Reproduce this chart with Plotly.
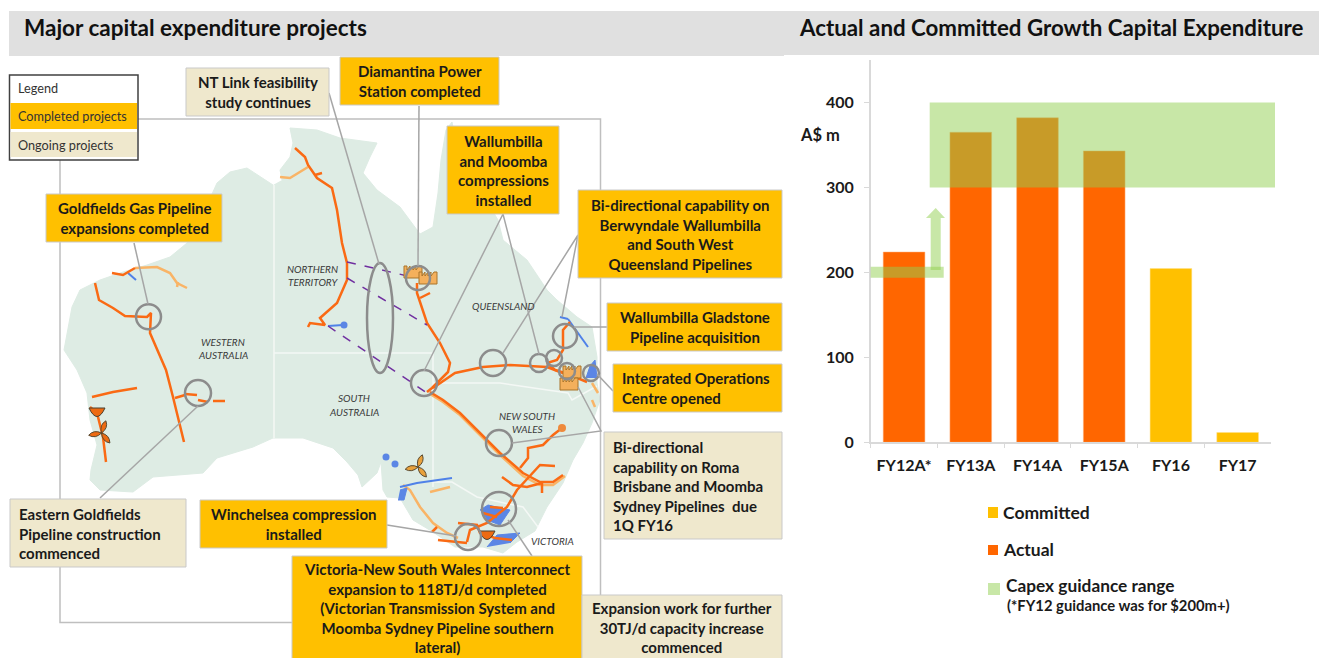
import math
import plotly.graph_objects as go

W, H = 1319, 658

## Bar chart data
categories = ['FY12A*', 'FY13A', 'FY14A', 'FY15A', 'FY16', 'FY17']
actual     = [224, 365, 382, 343, None, None]
committed  = [None, None, None, None, 204.5, 11.5]
guidance_low, guidance_high = 300, 400
fy12_guidance_low, fy12_guidance_high = 193.6, 206.6

## Map data in its own pixel coordinates
land = [(273,185),(247,168),(230,172),(217,183),(208,203),(197,227),(187,243),(170,257),(147,265),(123,272),
        (100,280),(80,290),(72,307),(68,327),(64,350),(77,370),(87,393),(90,420),(97,445),(91,470),(90,480),
        (100,490),(133,492),(153,477),(203,473),(217,458),(253,447),(273,438),(303,438),(333,448),(347,462),
        (358,475),(362,487),(377,473),(381,462),(383,490),(387,497),(400,498),(413,520),(433,532),(455,547),
        (483,547),(503,553),(517,542),(535,531),(547,507),(563,483),(573,460),(583,443),(592,423),(600,400),
        (597,383),(597,357),(592,327),(577,317),(557,300),(547,290),(527,260),(503,240),(498,220),(480,190),
        (460,165),(452,122),(446,130),(441,160),(438,193),(433,227),(420,234),(400,207),(377,190),(363,173),
        (370,157),(377,143),(340,138),(317,130),(290,128),(293,143),(290,157),(280,170),(282,180)]
state_borders = [[(274,185),(274,438)], [(274,353),(433,353),(433,487)], [(433,383),(500,383),(568,393),(572,400),(597,386)],
                 [(433,482),(452,482),(477,497),(523,507),(538,527)]]

orange_lines = [
    [(295,148),(305,157),(308,165),(317,178),(332,188),(337,210),(342,243),(347,263),(347,280),(337,303),(320,318),(325,325),(310,323),(308,327)],
    [(315,175),(322,173)],
    [(95,283),(99,300),(113,308),(125,316),(147,317),(151,313),(150,333),(157,350),(166,370),(173,397),(180,427),(184,442)],
    [(175,398),(185,395)],
    [(112,273),(123,275),(135,268)],
    [(92,397),(113,392),(137,388)],
    [(90,407),(97,413),(103,437),(106,462)],
    [(417,283),(417,293),(427,323),(440,343),(450,363),(448,372),(432,388),(427,392)],
    [(420,298),(430,293)],
    [(433,388),(455,373),(483,367),(510,365),(547,367),(560,372),(570,375),(587,382)],
    [(430,392),(443,400),(460,413),(480,433),(500,453),(523,473),(540,482),(553,482),(563,475)],
    [(562,428),(553,435),(543,445),(528,448),(528,458),(520,468)],
    [(555,466),(540,465),(528,478),(517,490),(507,507),(487,523),(470,530),(467,542)],
    [(502,477),(513,485),(527,487),(542,483),(542,493)],
    [(490,507),(503,508)],
    [(483,513),(497,517)],
    [(458,523),(477,525),(480,533),(495,538),(512,540)],
    [(438,540),(455,542),(467,543)],
    [(432,532),(437,527)],
    [(570,322),(563,330),(563,350),(557,360),(547,363),(555,370),(568,374)],
]
light_orange_lines = [
    [(280,177),(290,178),(308,167)],
    [(135,268),(157,267),(170,273),(177,283),(187,288)],
    [(177,287),(178,282)],
    [(430,394),(443,402),(460,415),(480,435),(500,455),(523,476),(540,485),(553,485),(565,476)],
    [(430,492),(450,487)],
    [(403,485),(410,490),(420,507),(433,523),(447,533),(458,538)],
    [(592,383),(598,393)],
    [(592,400),(595,407)],
]
dashed_orange_lines = [[(185,394),(197,395)], [(198,400),(208,402)], [(213,401),(225,401)]]
blue_lines = [
    [(128,273),(136,280)],
    [(328,326),(343,325)],
    [(560,317),(568,319)],
    [(568,319),(578,333),(588,347)],
    [(400,487),(417,483),(452,478)],
]
blue_dots = [(344,325),(386,457),(395,464),(562,428)]
blue_patches = [
    [(480,510),(488,505),(510,510),(500,525),(487,520)],
    [(487,547),(497,535),(520,533),(510,543)],
    [(400,490),(407,488),(404,500),(398,500)],
    [(586,378),(590,366),(595,360),(597,378)],
]
purple_lines = [[(347,262),(412,277)], [(347,278),(427,325)], [(328,326),(427,393)]]

rings = [(148.5,316.7,12.5),(198,393,13),(418,278,12),(424,383,13),(493,363,13),(539,363,9),(554,358,8),
         (567,371,8),(591,373,8),(565,336,12),(499,443,13),(499,509,17),(468,537,13)]
nt_link_ring = (380, 318, 13, 55)

leaders = [[(329,93),(379,264)], [(419,106),(418,266)], [(134,243),(148,304)], [(100,498),(198,406)],
           [(424,371),(503,214),(539,354)], [(503,353),(578,235),(562,317)], [(574,327),(607,327)],
           [(597,374),(613,391)], [(512,443),(601,431),(578,387)], [(508,520),(532,556)], [(387,525),(456,536)]]

completed_color = '#FFC000'
ongoing_color = '#EFE8CD'
boxes = [
    (186,68,329,116,ongoing_color,'NT Link feasibility<br>study continues','center'),
    (340,57,499,105,completed_color,'Diamantina Power<br>Station completed','center'),
    (447,126,559,214,completed_color,'Wallumbilla<br>and Moomba<br>compressions<br>installed','center'),
    (46,194,222,242,completed_color,'Goldfields Gas Pipeline<br>expansions completed','center'),
    (578,190,782,278,completed_color,'Bi-directional capability on<br>Berwyndale Wallumbilla<br>and South West<br>Queensland Pipelines','center'),
    (607,303,782,351,completed_color,'Wallumbilla Gladstone<br>Pipeline acquisition','center'),
    (613,364,782,412,completed_color,'Integrated Operations<br>Centre opened','left'),
    (604,432,782,539,ongoing_color,'Bi-directional<br>capability on Roma<br>Brisbane and Moomba<br>Sydney Pipelines  due<br>1Q FY16','left'),
    (10,499,186,567,ongoing_color,'Eastern Goldfields<br>Pipeline construction<br>commenced','left'),
    (200,500,387,548,completed_color,'Winchelsea compression<br>installed','center'),
    (292,556,582,660,completed_color,'Victoria-New South Wales Interconnect<br>expansion to 118TJ/d completed<br>(Victorian Transmission System and<br>Moomba Sydney Pipeline southern<br>lateral)','center'),
    (582,595,782,660,ongoing_color,'Expansion work for further<br>30TJ/d capacity increase<br>commenced','center'),
]
state_labels = [(223,342,'WESTERN'),(223,355,'AUSTRALIA'),(312,269,'NORTHERN'),(313,282,'TERRITORY'),(354,398,'SOUTH'),
                (354,412,'AUSTRALIA'),(503,306,'QUEENSLAND'),(527,416,'NEW SOUTH'),(527,429,'WALES'),(552,541,'VICTORIA')]
turbines = [(101.5,433,'#ED6A12'),(418,467,'#E9A13B')]
gas_plants = [(97,411),(487,534)]
factories = [(413,272),(428,278),(572,372),(569,384)]

FONT = 'Lato'
GREEN = 'rgba(146,208,80,0.5)'
GREY = '#A6A6A6'

def split(lines):
    xs, ys = [], []
    for line in lines:
        xs += [p[0] for p in line] + [None]
        ys += [p[1] for p in line] + [None]
    return xs, ys

def map_line(lines, color, width, dash='solid'):
    xs, ys = split(lines)
    fig.add_trace(go.Scatter(x=xs, y=ys, mode='lines', xaxis='x2', yaxis='y2', hoverinfo='skip', showlegend=False,
                             line=dict(color=color, width=width, dash=dash)))

def map_rect(x0, y0, x1, y1, fill, line=None, width=0):
    fig.add_shape(type='rect', xref='x2', yref='y2', x0=x0, y0=y0, x1=x1, y1=y1, fillcolor=fill,
                  line=dict(color=line, width=width) if line else dict(width=0))

def text(x, y, s, size=15, bold=True, xanchor='center', align='center', color='#1A1A1A', italic=False):
    if xanchor == 'left':
        x -= 2      # annotation padding
    fig.add_annotation(xref='x2', yref='y2', x=x, y=y, text=s, showarrow=False, xanchor=xanchor, yanchor='middle', align=align,
                       font=dict(family=FONT, size=size, color=color, weight=700 if bold else 400,
                                 style='italic' if italic else 'normal'))

def poly_path(points):
    return 'M ' + ' L '.join(f'{x} {y}' for x, y in points) + ' Z'

fig = go.Figure()

## Bars on the real chart axes
fig.add_trace(go.Bar(x=categories, y=actual, name='Actual', marker=dict(color='#FF6600', line=dict(color='#FFB27F', width=0.5)), showlegend=False))
fig.add_trace(go.Bar(x=categories, y=committed, name='Committed', marker=dict(color='#FFC000', line=dict(color='#FFE08A', width=0.5)), showlegend=False))

## Land and state borders
fig.add_trace(go.Scatter(x=[p[0] for p in land], y=[p[1] for p in land], mode='lines', fill='toself', fillcolor='#DEECE4',
                         line=dict(color='#DEECE4', width=1), xaxis='x2', yaxis='y2', hoverinfo='skip', showlegend=False))
map_line(state_borders, '#F4F8F5', 1.5)

## Pipelines
map_line(light_orange_lines, '#F9B466', 2.5)
map_line(blue_lines, '#4F81E8', 2)
for patch in blue_patches:
    fig.add_trace(go.Scatter(x=[p[0] for p in patch], y=[p[1] for p in patch], mode='lines', fill='toself', fillcolor='#5B86E5',
                             line=dict(color='#5B86E5', width=1), xaxis='x2', yaxis='y2', hoverinfo='skip', showlegend=False))
map_line(orange_lines, '#FA6A14', 2.5)
map_line(dashed_orange_lines, '#FA6A14', 2.5)
map_line(purple_lines, '#7030A0', 1.5, 'dash')
fig.add_trace(go.Scatter(x=[p[0] for p in blue_dots[:3]], y=[p[1] for p in blue_dots[:3]], mode='markers', xaxis='x2', yaxis='y2',
                         marker=dict(color='#5B86E5', size=7), hoverinfo='skip', showlegend=False))
fig.add_trace(go.Scatter(x=[blue_dots[3][0]], y=[blue_dots[3][1]], mode='markers', xaxis='x2', yaxis='y2',
                         marker=dict(color='#EE8A3C', size=8), hoverinfo='skip', showlegend=False))

## Icons
for x, y, color in turbines:
    d = ''
    for ang in (-70, 50, 170):
        a = math.radians(ang)
        tx, ty = x + 13*math.cos(a), y + 13*math.sin(a)
        nx, ny = -math.sin(a)*5, math.cos(a)*5
        mx, my = x + 7*math.cos(a), y + 7*math.sin(a)
        d += f'M {x} {y} Q {mx+nx:.1f} {my+ny:.1f} {tx:.1f} {ty:.1f} Q {mx-nx:.1f} {my-ny:.1f} {x} {y} Z '
    fig.add_shape(type='path', xref='x2', yref='y2', path=d, fillcolor=color, line=dict(color='#5A4A30', width=1))
for x, y in gas_plants:
    fig.add_shape(type='path', xref='x2', yref='y2', path=f'M {x-8} {y-3} L {x+8} {y-3} Q {x} {y+14} {x-8} {y-3} Z',
                  fillcolor='#ED6A12', line=dict(color='#4A4030', width=1))
for x, y in factories:
    pts = [(x-9,y+6),(x-9,y-6),(x-6,y-6),(x-6,y-2),(x-3,y-6),(x-3,y-2),(x,y-6),(x,y-2),(x+3,y-6),(x+3,y-2),(x+6,y-6),(x+9,y-6),(x+9,y+6)]
    fig.add_shape(type='path', xref='x2', yref='y2', path=poly_path(pts), fillcolor='#F4B05C', line=dict(color='#A9742A', width=1))

## Frame, rings and leader lines sit under the boxes
fig.add_shape(type='rect', xref='x2', yref='y2', x0=60, y0=119, x1=600.5, y1=622.5, line=dict(color='#BFBFBF', width=1.5))
for x, y, r in rings:
    fig.add_shape(type='circle', xref='x2', yref='y2', x0=x-r, y0=y-r, x1=x+r, y1=y+r, line=dict(color='#8C8C8C', width=2.5))
x, y, rx, ry = nt_link_ring
fig.add_shape(type='circle', xref='x2', yref='y2', x0=x-rx, y0=y-ry, x1=x+rx, y1=y+ry, line=dict(color='#8C8C8C', width=2.5))
for line in leaders:
    d = 'M ' + ' L '.join(f'{px} {py}' for px, py in line)
    fig.add_shape(type='path', xref='x2', yref='y2', path=d, line=dict(color=GREY, width=1.5))

## Header bands
map_rect(9, 11, 784, 56, '#E0E0E0')
map_rect(784, 11, 1319, 55, '#E0E0E0')
text(24, 27, 'Major capital expenditure projects', size=22.5, xanchor='left', color='#111111')
text(799, 27, 'Actual and Committed Growth Capital Expenditure', size=22.3, xanchor='left', color='#111111')

## Slide legend
map_rect(9.5, 75, 138, 160, '#FFFFFF', '#404040', 1.5)
map_rect(10.5, 103, 137, 129, completed_color)
map_rect(10.5, 132, 137, 157, ongoing_color)
text(18, 88, 'Legend', size=12.7, bold=False, xanchor='left', color='#333333')
text(18, 116, 'Completed projects', size=12.7, bold=False, xanchor='left', color='#333333')
text(18, 145, 'Ongoing projects', size=12.7, bold=False, xanchor='left', color='#333333')

## Callouts
for x0, y0, x1, y1, fill, label, align in boxes:
    map_rect(x0, y0, x1, y1, fill, '#C9C9C9', 1)
    if align == 'center':
        text((x0+x1)/2, (y0+y1)/2, label)
    else:
        text(x0+9, (y0+y1)/2, label, xanchor='left', align='left')

for x, y, label in state_labels:
    text(x, y, label, size=10, bold=False, italic=True, color='#3A3A3A')

## Guidance range on the chart's value axis
fig.add_shape(type='rect', xref='paper', yref='y', x0=929.7/W, x1=1275/W, y0=guidance_low, y1=guidance_high,
              fillcolor=GREEN, line=dict(width=0))
fig.add_shape(type='rect', xref='paper', yref='y', x0=870.7/W, x1=943.7/W, y0=fy12_guidance_low, y1=fy12_guidance_high,
              fillcolor=GREEN, line=dict(width=0))
arrow = [(930.7,270),(930.7,218),(926,218),(935.7,208),(945,218),(940.7,218),(940.7,270)]
fig.add_shape(type='path', xref='x2', yref='y2', path=poly_path(arrow), fillcolor=GREEN, line=dict(width=0))
text(800, 135, 'A$ m', size=16.5, xanchor='left')

## Chart legend
map_rect(988, 507, 998, 518, '#FFC000')
map_rect(988, 545, 998, 555, '#FF6600')
map_rect(988, 583, 1000, 595, '#C8E7A7')
text(1003, 512, 'Committed', size=17.5, xanchor='left')
text(1003, 549, 'Actual', size=17.5, xanchor='left')
text(1006, 585, 'Capex guidance range', size=17.3, xanchor='left')
text(1007, 605, '(*FY12 guidance was for $200m+)', size=14.8, xanchor='left')

fig.update_layout(
    width=W, height=H, margin=dict(l=0, r=0, t=0, b=0), barmode='overlay', bargap=0.375,
    paper_bgcolor='#FFFFFF', plot_bgcolor='rgba(0,0,0,0)', showlegend=False,
    xaxis=dict(domain=[870.7/W, 1271/W], type='category', range=[-0.5, 5.5], tickson='boundaries', ticks='outside', ticklen=4,
               tickcolor='#D9D9D9', linecolor='#D9D9D9', linewidth=1.5, showgrid=False, zeroline=False, ticklabelstandoff=8, automargin=False,
               tickfont=dict(family=FONT, size=16, color='#1A1A1A', weight=700)),
    yaxis=dict(domain=[1-442.3/H, 1-60/H], range=[0, 450], tickvals=[0, 100, 200, 300, 400], ticks='outside', ticklen=5,
               tickcolor='#D9D9D9', linecolor='#D9D9D9', linewidth=1.5, showline=True, showgrid=False, zeroline=False, ticklabelstandoff=7, automargin=False,
               tickfont=dict(family=FONT, size=16, color='#1A1A1A', weight=700)),
    xaxis2=dict(domain=[0, 1], range=[0, W], visible=False, anchor='y2', fixedrange=True, automargin=False),
    yaxis2=dict(domain=[0, 1], range=[H, 0], visible=False, anchor='x2', fixedrange=True, automargin=False),
)

fig.write_html('out.html', post_script="document.body.style.margin='0';document.body.style.overflow='hidden';",
               config=dict(displayModeBar=False))
